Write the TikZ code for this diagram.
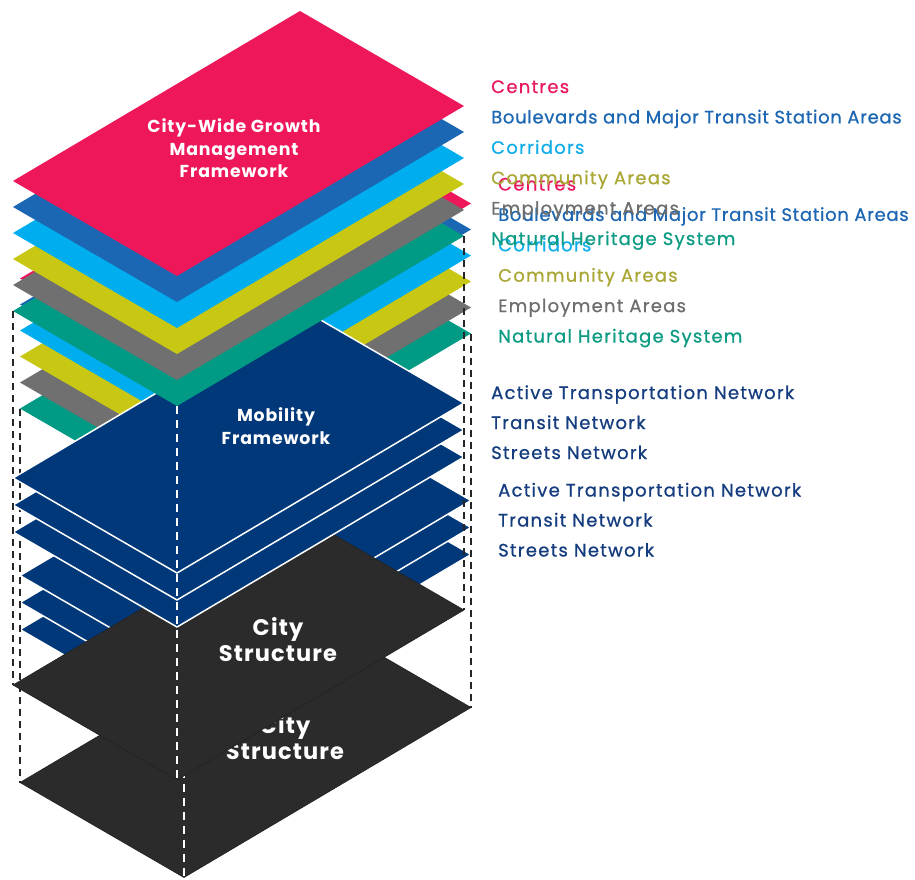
\documentclass[tikz,border=0pt]{standalone}
\usepackage{fontspec}
\setmainfont{Poppins}
\newfontfamily\lblfont{Poppins}[LetterSpace=7,FakeBold=0.8]
\newfontfamily\lblnarrowfont{Poppins}[LetterSpace=3.8,FakeBold=0.8]
\newfontfamily\ttlfont{Poppins}[LetterSpace=5,UprightFont=*,BoldFont=* Bold]
\definecolor{pinkC}{HTML}{ED1759}
\definecolor{blueC}{HTML}{1C67B3}
\definecolor{cyanC}{HTML}{00AEEF}
\definecolor{yellowC}{HTML}{C8C814}
\definecolor{grayC}{HTML}{707070}
\definecolor{tealC}{HTML}{009A85}
\definecolor{navyC}{HTML}{01387A}
\definecolor{blackC}{HTML}{2B2B2B}
\definecolor{blackE}{HTML}{222222}
\definecolor{pinkT}{HTML}{E8195E}
\definecolor{blueT}{HTML}{1D67B2}
\definecolor{cyanT}{HTML}{12AEEA}
\definecolor{oliveT}{HTML}{A9A735}
\definecolor{grayT}{HTML}{6E6E6E}
\definecolor{tealT}{HTML}{0E9B84}
\definecolor{navyT}{HTML}{143C7E}
\newcommand{\isoslab}[3][]{\path[#1] (#2,#3) -- ++(-164,-95) -- ++(287,-170) -- ++(164,95) -- cycle;}
\begin{document}
\begin{tikzpicture}[x=1pt,y=-1pt,
  lbl/.style={anchor=base west, inner sep=0pt, font=\lblfont\fontsize{18}{20}\selectfont},
  lblnarrow/.style={anchor=base west, inner sep=0pt, font=\lblnarrowfont\fontsize{18}{20}\selectfont},
  ttl/.style={align=center, text=white, inner sep=0pt, font=\ttlfont\bfseries\fontsize{17.3}{22.5}\selectfont},
  bigttl/.style={align=center, text=white, inner sep=0pt, font=\ttlfont\bfseries\fontsize{22.5}{26}\selectfont},
  bdash/.style={draw=black!85, line width=1.7pt, dash pattern=on 7pt off 5pt},
  wdash/.style={draw=white, line width=1.5pt, dash pattern=on 8pt off 6pt},
  navyslab/.style={fill=navyC, draw=white, line width=1.5pt}]
\useasboundingbox (0,0) rectangle (915,879);
\foreach \dx/\dy/\c in {7/97.5/b,0/0/a}{
\begin{scope}[shift={(\dx,\dy)}]
  \isoslab[fill=blackC, draw=blackE, line width=0.6pt]{177}{780}
  \isoslab[navyslab]{177}{627}
  \isoslab[navyslab]{177}{600}
  \isoslab[navyslab]{177}{573}
  \isoslab[fill=tealC]{177}{406}
  \isoslab[fill=grayC]{177}{380}
  \isoslab[fill=yellowC]{177}{354}
  \isoslab[fill=cyanC]{177}{328}
  \isoslab[fill=blueC]{177}{302}
  \isoslab[fill=pinkC]{177}{276}
  \coordinate (tl\c) at (13,311);
  \coordinate (bl\c) at (13,685);
  \coordinate (tr\c) at (464,236);
  \coordinate (br\c) at (464,610);
  \coordinate (tc\c) at (177,406);
  \coordinate (bc\c) at (177,780);
  \draw[bdash] (tl\c) -- (bl\c);
  \draw[bdash] (tr\c) -- (br\c);
  \draw[wdash] (tc\c) -- (bc\c);
  \node[ttl] (cw\c) at (234,148.5) {City-Wide Growth\\Management\\Framework};
  \node[ttl] (mob\c) at (276,426) {Mobility\\Framework};
  \node[bigttl] (cs\c) at (278,640) {City\\Structure};
  \node[lbl, text=pinkT] (l1\c) at (491,93) {Centres};
  \node[lblnarrow, text=blueT] (l2\c) at (491,123.4) {Boulevards and Major Transit Station Areas};
  \node[lbl, text=cyanT] (l3\c) at (491,153.8) {Corridors};
  \node[lbl, text=oliveT] (l4\c) at (491,184.2) {Community Areas};
  \node[lbl, text=grayT] (l5\c) at (491,214.6) {Employment Areas};
  \node[lbl, text=tealT] (l6\c) at (491,245) {Natural Heritage System};
  \node[lbl, text=navyT] (m1\c) at (491,399) {Active Transportation Network};
  \node[lbl, text=navyT] (m2\c) at (491,429) {Transit Network};
  \node[lbl, text=navyT] (m3\c) at (491,459) {Streets Network};
\end{scope}}
\end{tikzpicture}
\end{document}
